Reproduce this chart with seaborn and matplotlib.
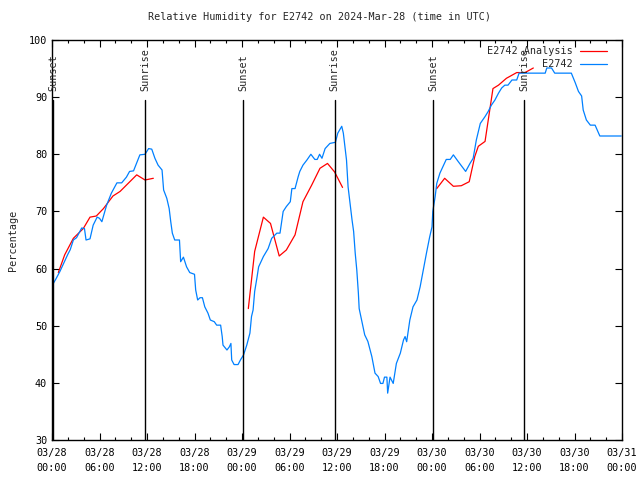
import pandas as pd
import numpy as np
import matplotlib
matplotlib.use("Agg")
import matplotlib.pyplot as plt
import matplotlib.dates as mdates
from matplotlib.lines import Line2D
import seaborn as sns

sns.set_theme(style="ticks")
plt.rcParams["font.family"] = ["DejaVu Sans Mono"]

start = pd.Timestamp("2024-03-28 00:00")

# observed humidity (hours since start, %)
obs_hours = [0.0, 0.5, 1.0, 1.5, 2.0, 2.3, 2.7, 3.1, 3.4, 3.75, 4.1, 4.3, 4.8, 5.2, 5.7, 6.0, 6.3, 6.9,
             7.5, 8.2, 8.8, 9.4, 9.8, 10.3, 10.7, 11.1, 11.75, 12.2, 12.6, 13.0, 13.4, 13.9, 14.1, 14.5,
             14.8, 15.0, 15.2, 15.5, 16.1, 16.25, 16.6, 17.0, 17.4, 18.0, 18.15, 18.4, 18.7, 19.0, 19.3,
             19.7, 20.0, 20.5, 20.8, 21.3, 21.5, 21.6, 22.1, 22.4, 22.6, 22.7, 23.0, 23.5, 23.8, 24.2,
             24.6, 25.0, 25.2, 25.4, 25.6, 25.9, 26.1, 26.7, 27.3, 27.75, 28.4, 28.8, 29.2, 29.6, 30.1,
             30.3, 30.7, 31.1, 31.3, 31.7, 32.2, 32.7, 33.2, 33.5, 33.8, 34.1, 34.5, 35.1, 35.8, 36.1,
             36.6, 36.8, 37.0, 37.2, 37.4, 37.6, 37.9, 38.1, 38.3, 38.5, 38.7, 38.8, 39.1, 39.5, 39.9,
             40.4, 40.8, 41.2, 41.5, 41.8, 42.0, 42.3, 42.4, 42.7, 43.1, 43.5, 44.0, 44.4, 44.6, 44.8,
             45.2, 45.6, 46.1, 46.5, 46.9, 47.3, 47.7, 48.0, 48.1, 48.4, 48.6, 49.0, 49.8, 50.3, 50.7,
             51.3, 52.25, 52.8, 53.2, 53.6, 54.1, 54.7, 55.1, 55.5, 55.95, 56.4, 56.8, 57.2, 57.6, 58.1,
             58.7, 59.0, 62.3, 62.5, 63.1, 63.5, 65.6, 66.1, 66.5, 66.9, 67.1, 67.5, 68.0, 68.6, 69.2,
             71.9]
obs_values = [57.0, 58.2, 59.5, 61.0, 62.5, 63.3, 65.0, 65.4, 66.2, 67.1, 67.0, 65.0, 65.2, 67.6, 69.0, 68.8, 68.2, 71.1,
              73.2, 75.0, 75.0, 76.0, 77.0, 77.1, 78.5, 79.9, 80.0, 81.0, 80.9, 79.3, 78.1, 77.25, 73.75, 72.3,
              70.5, 68.2, 66.2, 65.0, 65.0, 61.2, 62.0, 60.3, 59.3, 59.0, 56.25, 54.5, 54.9, 54.9, 53.3,
              52.2, 51.0, 50.7, 50.1, 50.1, 48.1, 46.6, 45.75, 46.3, 46.9, 44.0, 43.2, 43.2, 44.0, 44.9,
              46.6, 48.7, 51.6, 52.75, 56.0, 58.5, 60.3, 62.1, 63.5, 65.3, 66.2, 66.2, 70.0, 70.85, 71.7,
              74.0, 74.0, 76.1, 77.0, 78.1, 79.0, 80.0, 79.1, 79.1, 80.0, 79.3, 81.0, 81.9, 82.1, 83.7,
              84.9, 83.7, 81.4, 79.0, 74.3, 72.0, 68.5, 66.5, 62.7, 59.75, 55.7, 53.0, 51.0, 48.4, 47.25,
              44.6, 41.7, 41.1, 39.9, 39.9, 41.0, 41.0, 38.2, 41.0, 39.9, 43.4, 45.2, 47.5, 48.1, 47.2,
              51.0, 53.3, 54.5, 56.8, 59.75, 62.7, 65.5, 67.3, 70.0, 72.6, 74.9, 76.7, 79.1, 79.1, 79.9,
              78.75, 77.0, 78.4, 79.3, 82.5, 85.4, 86.6, 87.5, 88.6, 89.5, 90.7, 91.6, 92.1, 92.1, 93.0,
              93.0, 94.2, 94.2, 95.1, 95.1, 94.2, 94.2, 92.5, 91.0, 90.2, 87.75, 86.0, 85.1, 85.1, 83.2,
              83.2]

# analysis runs (three separate segments)
ana_hours_1 = [0.8, 1.6, 2.7, 3.95, 4.8, 5.6, 6.5, 7.7, 8.6, 10.7, 11.75, 12.8]
ana_values_1 = [59.3, 62.4, 65.3, 67.0, 69.0, 69.2, 70.5, 72.7, 73.5, 76.4, 75.5, 75.8]
ana_hours_2 = [24.8, 25.6, 26.7, 27.6, 28.7, 29.6, 30.7, 31.7, 32.8, 33.85, 34.8, 35.7, 36.7]
ana_values_2 = [53.0, 63.0, 69.0, 67.9, 62.2, 63.25, 65.9, 71.7, 74.6, 77.55, 78.4, 76.9, 74.2]
ana_hours_3 = [48.6, 49.6, 50.7, 51.7, 52.7, 53.4, 53.85, 54.7, 55.7, 56.4, 57.4, 58.7, 59.75, 60.8]
ana_values_3 = [74.0, 75.8, 74.4, 74.5, 75.2, 79.6, 81.4, 82.25, 91.5, 92.1, 93.3, 94.3, 94.3, 95.1]

# sun events (hours since start)
sun_hours = [0.12, 11.78, 24.12, 35.7, 48.12, 59.65]
sun_labels = ["Sunset", "Sunrise", "Sunset", "Sunrise", "Sunset", "Sunrise"]

obs = pd.DataFrame({"time": start + pd.to_timedelta(obs_hours, unit="h"), "rh": obs_values})
ana = pd.concat([
    pd.DataFrame({"time": start + pd.to_timedelta(h, unit="h"), "rh": v, "seg": i})
    for i, (h, v) in enumerate([(ana_hours_1, ana_values_1), (ana_hours_2, ana_values_2),
                                (ana_hours_3, ana_values_3)])
])

red = "#ff0000"
blue = "#0080ff"
fs = 7.3

fig = plt.figure(figsize=(6.4, 4.8), dpi=100)
ax = fig.add_axes([52 / 640, 40 / 480, 570 / 640, 400 / 480])

sns.lineplot(data=ana, x="time", y="rh", units="seg", estimator=None, color=red, lw=0.9, ax=ax)
sns.lineplot(data=obs, x="time", y="rh", color=blue, lw=0.9, ax=ax)

for h, lab in zip(sun_hours, sun_labels):
    t = start + pd.Timedelta(hours=h)
    ax.axvline(t, ymin=0, ymax=(89.5 - 30) / 70, color="black", lw=1)
    ax.text(t, 91, lab, rotation=90, ha="center", va="bottom", fontsize=fs)

ax.set_xlim(start, start + pd.Timedelta(hours=72))
ax.set_ylim(30, 100)
ax.set_yticks(range(30, 101, 10))
ax.xaxis.set_major_locator(mdates.HourLocator(byhour=[0, 6, 12, 18]))
ax.xaxis.set_minor_locator(mdates.HourLocator(byhour=range(0, 24, 2)))
ax.xaxis.set_major_formatter(mdates.DateFormatter("%m/%d\n%H:%M"))
ax.tick_params(axis="both", which="both", direction="in", top=True, right=True,
               labelsize=fs, colors="black")
ax.tick_params(which="major", length=5, width=0.8)
ax.tick_params(which="minor", length=2.5, width=0.8)
ax.tick_params(axis="x", pad=6)
for lab in ax.get_xticklabels():
    lab.set_linespacing(1.6)
for s in ax.spines.values():
    s.set_color("black")
    s.set_linewidth(1)

ax.set_xlabel("")
ax.set_ylabel("Percentage", fontsize=fs, labelpad=8)
fig.suptitle("Relative Humidity for E2742 on 2024-Mar-28 (time in UTC)", fontsize=fs, y=0.975)

handles = [Line2D([], [], color=red, lw=0.9), Line2D([], [], color=blue, lw=0.9)]
ax.legend(handles, ["E2742 Analysis", "E2742"], loc="upper right", frameon=False, markerfirst=False,
          fontsize=fs, handlelength=2.7, handletextpad=0.7, labelspacing=0.3,
          borderaxespad=0.2, bbox_to_anchor=(1 - 9 / 570, 1))

fig.savefig("out.png", dpi=100)
